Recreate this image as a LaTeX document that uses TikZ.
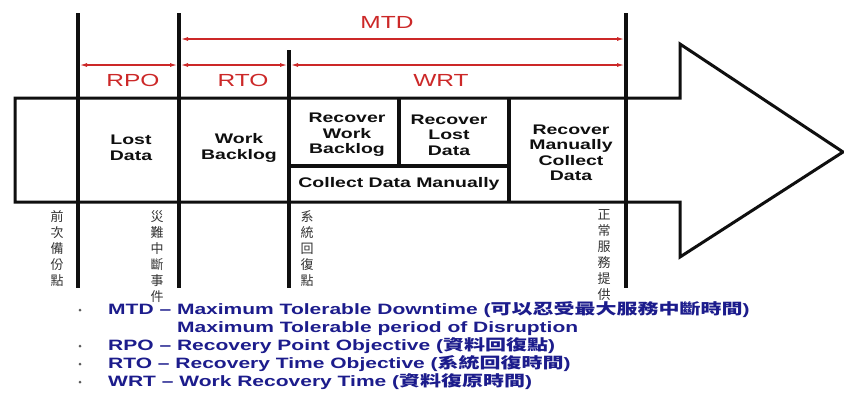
\documentclass[tikz,border=0pt]{standalone}
\usepackage{fontspec}
\usetikzlibrary{arrows.meta}
\newfontfamily\widesans[FakeStretch=1.4]{Liberation Sans}
\newfontfamily\cjkwide[FakeStretch=1.4]{Noto Sans CJK TC}
\newfontfamily\cjkplain{Noto Sans CJK TC}
\definecolor{mark}{RGB}{204,40,40}
\definecolor{navy}{RGB}{28,28,140}
\definecolor{ink}{RGB}{15,15,15}
\newcommand{\legendzh}[1]{{\cjkwide\bfseries\fontsize{15bp}{18bp}\selectfont #1}}

\tikzset{
  outline/.style={line width=3bp, draw=ink, line join=miter},
  divider/.style={line width=4bp, draw=ink},
  inner/.style={line width=3.5bp, draw=ink},
  span/.style={draw=mark, line width=1.1bp,
    {Latex[length=7bp,width=4bp]}-{Latex[length=7bp,width=4bp]}},
  spanlabel/.style={text=mark, font=\widesans\fontsize{17.5bp}{20bp}\selectfont, inner sep=0pt},
  boxtext/.style={font=\widesans\bfseries\fontsize{13.9bp}{15.5bp}\selectfont,
    align=center, inner sep=0pt, text=ink},
  eventtext/.style={font=\cjkplain\fontsize{13bp}{16bp}\selectfont,
    align=center, inner sep=0pt, anchor=north, text=ink!85},
  legend/.style={font=\widesans\bfseries\fontsize{15bp}{18bp}\selectfont,
    text=navy, anchor=base west, inner sep=0pt},
  bulletdot/.style={circle, fill=black!65, minimum size=3bp, inner sep=0pt},
}

\begin{document}
\begin{tikzpicture}[x=1bp, y=-1bp]
  \useasboundingbox (0,0) rectangle (844,392);
  \fill[white] (0,0) rectangle (844,392);

  % big time-line arrow
  \draw[outline] (15,98) -- (680,98) -- (680,44) -- (843,152) -- (680,257)
                 -- (680,202) -- (15,202) -- cycle;

  % inner partitions of the recovery phase
  \draw[inner] (399,98) -- (399,166);
  \draw[inner] (289,166) -- (509,166);
  \draw[inner] (509,98) -- (509,202);

  % event markers
  \coordinate (v1t) at (78,13);  \coordinate (v1b) at (78,288);
  \coordinate (v2t) at (179,13); \coordinate (v2b) at (179,288);
  \coordinate (v3t) at (289,50); \coordinate (v3b) at (289,288);
  \coordinate (v4t) at (626,13); \coordinate (v4b) at (626,288);
  \draw[divider] (v1t) -- (v1b);
  \draw[divider] (v2t) -- (v2b);
  \draw[divider] (v3t) -- (v3b);
  \draw[divider] (v4t) -- (v4b);

  % interval spans
  \coordinate (mtdL) at (181,39); \coordinate (mtdR) at (624,39);
  \coordinate (rpoL) at (80,65);  \coordinate (rpoR) at (177,65);
  \coordinate (rtoL) at (181,65); \coordinate (rtoR) at (287,65);
  \coordinate (wrtL) at (291,65); \coordinate (wrtR) at (624,65);
  \draw[span] (mtdL) -- (mtdR);
  \draw[span] (rpoL) -- (rpoR);
  \draw[span] (rtoL) -- (rtoR);
  \draw[span] (wrtL) -- (wrtR);

  \node[spanlabel] (mtd) at (387,22) {MTD};
  \node[spanlabel] (rpo) at (133,80) {RPO};
  \node[spanlabel] (rto) at (243,80) {RTO};
  \node[spanlabel] (wrt) at (441,80) {WRT};

  % phase contents
  \node[boxtext] (lost)    at (131,148) {Lost\\Data};
  \node[boxtext] (backlog) at (239,148) {Work\\Backlog};
  \node[boxtext] (recwb)   at (347,135) {Recover\\Work\\Backlog};
  \node[boxtext] (recld)   at (449,135) {Recover\\Lost\\Data};
  \node[boxtext] (collect) at (399,184) {Collect Data Manually};
  \node[boxtext] (recmc)   at (571,153) {Recover\\Manually\\Collect\\Data};

  % event names, written vertically
  \node[eventtext] (ev1) at (57,210)  {前\\次\\備\\份\\點};
  \node[eventtext] (ev2) at (157,210) {災\\難\\中\\斷\\事\\件};
  \node[eventtext] (ev3) at (307,210) {系\\統\\回\\復\\點};
  \node[eventtext] (ev4) at (604,209) {正\\常\\服\\務\\提\\供};

  % legend
  \node[bulletdot] (b1) at (80,310) {};
  \node[bulletdot] (b2) at (80,346) {};
  \node[bulletdot] (b3) at (80,364) {};
  \node[bulletdot] (b4) at (80,382) {};
  \node[legend] (l1) at (108,314.5) {MTD – Maximum Tolerable Downtime (\legendzh{可以忍受最大服務中斷時間})};
  \node[legend] (l2) at (177,332.5) {Maximum Tolerable period of Disruption};
  \node[legend] (l3) at (108,350.5) {RPO – Recovery Point Objective (\legendzh{資料回復點})};
  \node[legend] (l4) at (108,368.5) {RTO – Recovery Time Objective (\legendzh{系統回復時間})};
  \node[legend] (l5) at (108,386.5) {WRT – Work Recovery Time (\legendzh{資料復原時間})};
\end{tikzpicture}
\end{document}
